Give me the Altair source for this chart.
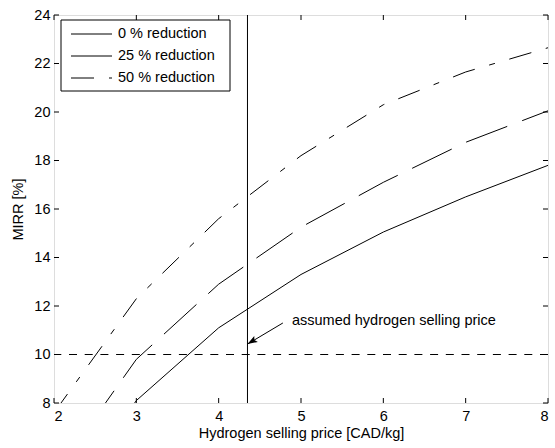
import math
import altair as alt
import pandas as pd

# ---- data ----
price = [2, 3, 4, 5, 6, 7, 8]
mirr_0 = [3.3, 8.1, 11.1, 13.3, 15.05, 16.5, 17.8]
mirr_25 = [5.0, 9.8, 12.9, 15.25, 17.1, 18.75, 20.05]
mirr_50 = [7.6, 12.3, 15.6, 18.2, 20.3, 21.65, 22.65]
series_names = ["0 % reduction", "25 % reduction", "50 % reduction"]

x_ticks = [2, 3, 4, 5, 6, 7, 8]
y_ticks = [8, 10, 12, 14, 16, 18, 20, 22, 24]
assumed_price = [4.35]
threshold_mirr = [10]
arrow_x = [4.78, 4.35]      # tail, tip
arrow_y = [11.3, 10.43]
note_x = [4.89]
note_y = [11.38]
note_text = ["assumed hydrogen selling price"]

# ---- styling ----
W, H = 494, 388
FONT = "Liberation Sans"
FS = 14.5
dashes = [None, [44, 16], [23, 15, 6, 15]]

xscale = alt.Scale(domain=[2, 8], nice=False, zero=False)
yscale = alt.Scale(domain=[8, 24], nice=False, zero=False)
xaxis = alt.Axis(values=x_ticks, tickSize=0, domain=False, grid=False,
                 labelFont=FONT, labelFontSize=FS, labelColor="black", labelPadding=6,
                 title="Hydrogen selling price [CAD/kg]", titleFont=FONT, titleFontSize=FS,
                 titleFontWeight="normal", titleColor="black", titlePadding=4)
yaxis = alt.Axis(values=y_ticks, tickSize=0, domain=False, grid=False,
                 labelFont=FONT, labelFontSize=FS, labelColor="black", labelPadding=4,
                 title="MIRR [%]", titleFont=FONT, titleFontSize=FS,
                 titleFontWeight="normal", titleColor="black", titlePadding=8)


def X(f):
    return alt.X(f, type="quantitative", scale=xscale, axis=xaxis)


def Y(f):
    return alt.Y(f, type="quantitative", scale=yscale, axis=yaxis)


layers = []

# inward ticks (MATLAB box style)
xt = pd.DataFrame({"v": x_ticks})
yt = pd.DataFrame({"v": y_ticks})
layers.append(alt.Chart(xt).mark_rule(color="black", strokeWidth=1).encode(
    x=X("v"), y=alt.value(H), y2=alt.value(H - 5)))
layers.append(alt.Chart(xt).mark_rule(color="black", strokeWidth=1).encode(
    x=X("v"), y=alt.value(0), y2=alt.value(5)))
layers.append(alt.Chart(yt).mark_rule(color="black", strokeWidth=1).encode(
    y=Y("v"), x=alt.value(0), x2=alt.value(5)))
layers.append(alt.Chart(yt).mark_rule(color="black", strokeWidth=1).encode(
    y=Y("v"), x=alt.value(W), x2=alt.value(W - 5)))

# reference lines
layers.append(alt.Chart(pd.DataFrame({"p": assumed_price})).mark_rule(
    color="black", strokeWidth=1).encode(x=X("p")))
layers.append(alt.Chart(pd.DataFrame({"m": threshold_mirr})).mark_rule(
    color="black", strokeWidth=1, strokeDash=[8, 7.7]).encode(y=Y("m")))

# curves
for vals, dash in zip([mirr_0, mirr_25, mirr_50], dashes):
    df = pd.DataFrame({"price": price, "mirr": vals})
    kw = dict(color="black", strokeWidth=1, clip=True)
    if dash:
        kw["strokeDash"] = dash
    layers.append(alt.Chart(df).mark_line(**kw).encode(x=X("price"), y=Y("mirr")))

# annotation arrow
adf = pd.DataFrame({"x": arrow_x, "y": arrow_y})
layers.append(alt.Chart(adf).mark_line(color="black", strokeWidth=1).encode(
    x=X("x"), y=Y("y")))
dx = (arrow_x[0] - arrow_x[1]) * W / 6
dy = -(arrow_y[0] - arrow_y[1]) * H / 16
ang = math.degrees(math.atan2(-dx, dy)) % 360
tip = pd.DataFrame({"x": [arrow_x[1]], "y": [arrow_y[1]]})
layers.append(alt.Chart(tip).mark_point(
    shape="M0,0L-0.7,2L0,1.6L0.7,2Z", size=100, angle=ang, filled=True,
    color="black", opacity=1, strokeWidth=0).encode(x=X("x"), y=Y("y")))
ndf = pd.DataFrame({"x": note_x, "y": note_y, "t": note_text})
layers.append(alt.Chart(ndf).mark_text(
    align="left", baseline="middle", font=FONT, fontSize=FS, color="black").encode(
    x=X("x"), y=Y("y"), text="t:N"))

# legend (manual, MATLAB style box)
one = pd.DataFrame({"a": [0]})
layers.append(alt.Chart(one).mark_rect(fill="white", stroke="black", strokeWidth=1).encode(
    x=alt.value(7), x2=alt.value(176), y=alt.value(5), y2=alt.value(76)))
for i, (name, dash) in enumerate(zip(series_names, dashes)):
    yy = 19 + i * 22
    kw = dict(color="black", strokeWidth=1)
    if dash:
        kw["strokeDash"] = dash
    layers.append(alt.Chart(one).mark_rule(**kw).encode(
        x=alt.value(17), x2=alt.value(58), y=alt.value(yy)))
    layers.append(alt.Chart(one).mark_text(
        align="left", baseline="middle", font=FONT, fontSize=FS, color="black").encode(
        x=alt.value(64), y=alt.value(yy), text=alt.value(name)))

chart = alt.layer(*layers).properties(
    width=W, height=H,
    autosize=alt.AutoSizeParams(type="none"),
    padding={"left": 54, "top": 15, "right": 7, "bottom": 45},
).configure_view(stroke="black", strokeWidth=1).configure(background="white")

chart.save("out.html", embed_options={"renderer": "svg", "actions": False})
